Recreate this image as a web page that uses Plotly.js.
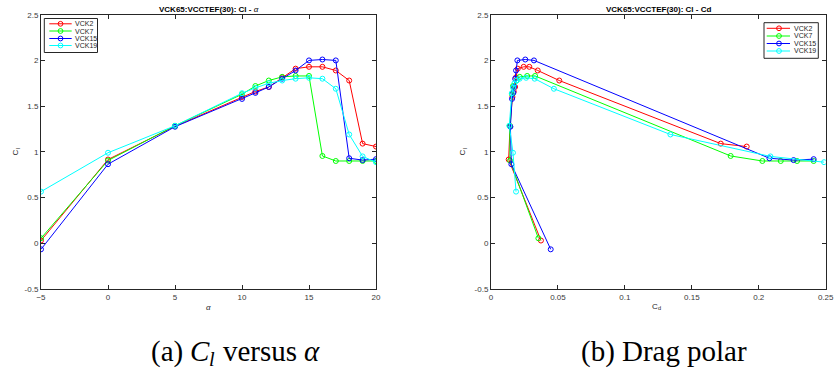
<!DOCTYPE html>
<html><head><meta charset="utf-8">
<script src="https://cdn.plot.ly/plotly-3.0.1.min.js"></script>
<style>html,body{margin:0;padding:0;background:#fff;}#chart{width:835px;height:373px;}</style>
</head><body><div id="chart"></div>
<script>
// ---- data ----
const seriesNames = ["VCK2", "VCK7", "VCK15", "VCK19"];
const seriesColors = ["#ff0000", "#00ff00", "#0000ff", "#00ffff"];
const alpha = [-5, 0, 5, 10, 11, 12, 13, 14, 15, 16, 17, 18, 19, 20];
const clVCK2  = [0.03, 0.916, 1.28, 1.60, 1.66, 1.71, 1.815, 1.91, 1.93, 1.93, 1.89, 1.78, 1.09, 1.058];
const clVCK7  = [0.055, 0.905, 1.285, 1.63, 1.72, 1.78, 1.82, 1.83, 1.83, 0.955, 0.90, 0.90, 0.90, 0.90];
const clVCK15 = [-0.066, 0.865, 1.275, 1.579, 1.645, 1.71, 1.80, 1.89, 2.00, 2.01, 2.00, 0.93, 0.91, 0.92];
const clVCK19 = [0.565, 0.99, 1.285, 1.641, 1.70, 1.75, 1.78, 1.80, 1.81, 1.80, 1.69, 1.19, 0.95, 0.887];
const cdVCK2  = [0.0373, 0.0132, 0.0142, 0.0160, 0.0170, 0.0180, 0.0187, 0.0200, 0.0244, 0.0286, 0.0349, 0.0510, 0.1716, 0.191];
const cdVCK7  = [0.0354, 0.0142, 0.0140, 0.0157, 0.0165, 0.0190, 0.0215, 0.0270, 0.0329, 0.179, 0.2027, 0.2164, 0.2286, 0.241];
const cdVCK15 = [0.0446, 0.0152, 0.0145, 0.0157, 0.0167, 0.0172, 0.0180, 0.0187, 0.0197, 0.0256, 0.0321, 0.208, 0.226, 0.241];
const cdVCK19 = [0.0187, 0.0164, 0.0137, 0.0155, 0.0165, 0.0175, 0.0192, 0.0214, 0.0262, 0.0326, 0.047, 0.134, 0.2087, 0.2488];
const alphaTicks = [-5, 0, 5, 10, 15, 20];
const cdTicks = [0, 0.05, 0.1, 0.15, 0.2, 0.25];
const cdTickText = ["0", "0.05", "0.1", "0.15", "0.2", "0.25"];
const clTicks = [-0.5, 0, 0.5, 1, 1.5, 2, 2.5];
const clTickText = ["-0.5", "0", "0.5", "1", "1.5", "2", "2.5"];
const titleLeft = "<b>VCK65:VCCTEF(30): Cl - </b><i>α</i>";
const titleRight = "<b>VCK65:VCCTEF(30): Cl - Cd</b>";

// ---- layout helpers ----
const W = 835, H = 373;
const px = x => x / W;
const py = y => 1 - y / H;
const clSeries = [clVCK2, clVCK7, clVCK15, clVCK19];
const cdSeries = [cdVCK2, cdVCK7, cdVCK15, cdVCK19];
const sansName = "Liberation Sans";
const serifName = "Liberation Serif";
const sans = "Liberation Sans, Arial, Helvetica, sans-serif";
const serif = "Liberation Serif, DejaVu Serif, serif";

const ctx = document.createElement("canvas").getContext("2d");
function measure(text, size, family, italic) {
  ctx.font = (italic ? "italic " : "") + size + "px \"" + family + "\"";
  return ctx.measureText(text).width;
}

const traces = [];
seriesNames.forEach((n, i) => {
  traces.push({x: alpha, y: clSeries[i], xaxis: "x", yaxis: "y", type: "scatter", mode: "lines+markers", name: n,
    showlegend: false, line: {color: seriesColors[i], width: 1},
    marker: {symbol: "circle-open", size: 5, color: seriesColors[i], line: {width: 1, color: seriesColors[i]}}});
});
seriesNames.forEach((n, i) => {
  traces.push({x: cdSeries[i], y: clSeries[i], xaxis: "x2", yaxis: "y2", type: "scatter", mode: "lines+markers", name: n,
    showlegend: false, line: {color: seriesColors[i], width: 1},
    marker: {symbol: "circle-open", size: 5, color: seriesColors[i], line: {width: 1, color: seriesColors[i]}}});
});

const axCommon = {showgrid: false, zeroline: false, showline: true, mirror: "ticks", ticks: "inside", ticklen: 4,
  linecolor: "#262626", linewidth: 1, tickcolor: "#262626", tickwidth: 1,
  tickfont: {family: sans, size: 8, color: "#3a3a3a"}, fixedrange: true};
const yDom = [py(289), py(14.7)];

const shapes = [], annotations = [];
function addLegend(box, rowsY, lineX0, lineX1, markX, textX) {
  shapes.push({type: "rect", xref: "paper", yref: "paper", x0: px(box[0]), x1: px(box[1]), y0: py(box[3]), y1: py(box[2]),
    line: {color: "#262626", width: 1}, fillcolor: "#ffffff", layer: "above"});
  seriesNames.forEach((n, i) => {
    const y = rowsY[i];
    shapes.push({type: "line", xref: "paper", yref: "paper", x0: px(lineX0), x1: px(lineX1), y0: py(y), y1: py(y),
      line: {color: seriesColors[i], width: 1}});
    shapes.push({type: "circle", xref: "paper", yref: "paper", x0: px(markX - 2.4), x1: px(markX + 2.4), y0: py(y + 2.4), y1: py(y - 2.4),
      line: {color: seriesColors[i], width: 1}});
    annotations.push({xref: "paper", yref: "paper", x: px(textX), y: py(y), xanchor: "left", yanchor: "middle", showarrow: false,
      borderpad: 0, text: n, font: {family: sans, size: 7, color: "#262626"}});
  });
}
addLegend([44.3, 97.5, 18.5, 52.5], [23.8, 31.0, 38.5, 45.5], 49.3, 71.7, 60.5, 74);
addLegend([764, 818.3, 22.7, 58.3], [28.3, 36.0, 43.5, 51.0], 766.7, 790, 779, 793.3);

// composite text: pieces [{t, italic, sub, gapBefore}] laid out left to right (or bottom to top when vertical)
function addComposite(cx, cy, pieces, size, family, familyCss, color, vertical) {
  const subSize = Math.round(size * 0.7 * 10) / 10;
  const spaceW = measure(" ", size, family, false);
  const items = pieces.map(p => {
    const s = p.sub ? subSize : size;
    return {p: p, s: s, w: measure(p.t, s, family, p.italic), gap: p.space ? spaceW : 0};
  });
  const total = items.reduce((a, it) => a + it.w + it.gap, 0);
  let pos = -total / 2;
  items.forEach(it => {
    pos += it.gap;
    const mid = pos + it.w / 2;
    const off = it.p.sub ? size * 0.28 : 0;
    const txt = it.p.italic ? "<i>" + it.p.t + "</i>" : it.p.t;
    const a = {xref: "paper", yref: "paper", xanchor: "center", yanchor: "middle", showarrow: false, borderpad: 0,
      text: txt, font: {family: familyCss, size: it.s, color: color}};
    if (vertical) { a.x = px(cx + off); a.y = py(cy - mid); a.textangle = -90; }
    else { a.x = px(cx + mid); a.y = py(cy + off); }
    annotations.push(a);
    pos += it.w;
  });
}
function addText(x, y, text, font) {
  annotations.push({xref: "paper", yref: "paper", x: px(x), y: py(y), xanchor: "center", yanchor: "middle",
    showarrow: false, borderpad: 0, text: text, font: font});
}
const titleFont = {family: sans, size: 8, color: "#000"};
addText(208.5, 9, titleLeft, titleFont);
addText(658, 9, titleRight, titleFont);
// axis titles
addComposite(208.5, 307, [{t: "α", italic: true}], 8, sansName, sans, "#262626", false);
addComposite(657, 306, [{t: "C"}, {t: "d", sub: true}], 8, sansName, sans, "#262626", false);
addComposite(16, 152, [{t: "C"}, {t: "l", sub: true}], 8, sansName, sans, "#262626", true);
addComposite(463, 152, [{t: "C"}, {t: "l", sub: true}], 8, sansName, sans, "#262626", true);
// captions
addComposite(235, 351, [{t: "(a)"}, {t: "C", italic: true, space: true}, {t: "l", italic: true, sub: true},
  {t: "versus", space: true}, {t: "α", italic: true, space: true}], 29, serifName, serif, "#000", false);
addComposite(664, 351, [{t: "(b)"}, {t: "Drag", space: true}, {t: "polar", space: true}], 29, serifName, serif, "#000", false);

const layout = {
  width: W, height: H, margin: {l: 0, r: 0, t: 0, b: 0}, paper_bgcolor: "#fff", plot_bgcolor: "#fff", showlegend: false,
  xaxis: Object.assign({}, axCommon, {domain: [px(41), px(376)], range: [-5, 20], tickvals: alphaTicks, anchor: "y"}),
  yaxis: Object.assign({}, axCommon, {domain: yDom, range: [-0.5, 2.5], tickvals: clTicks, ticktext: clTickText, anchor: "x"}),
  xaxis2: Object.assign({}, axCommon, {domain: [px(491), px(825.7)], range: [0, 0.25], tickvals: cdTicks, ticktext: cdTickText, anchor: "y2"}),
  yaxis2: Object.assign({}, axCommon, {domain: yDom, range: [-0.5, 2.5], tickvals: clTicks, ticktext: clTickText, anchor: "x2"}),
  shapes: shapes, annotations: annotations
};
Plotly.newPlot("chart", traces, layout, {staticPlot: true, displayModeBar: false});
</script></body></html>
